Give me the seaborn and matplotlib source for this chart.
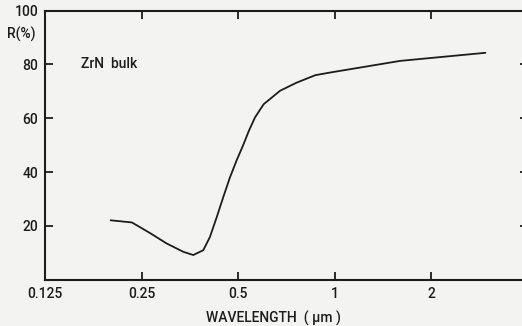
import matplotlib
matplotlib.use("Agg")
import matplotlib.pyplot as plt
from matplotlib.ticker import FixedLocator, FixedFormatter, NullLocator
import seaborn as sns
import pandas as pd

# Reflectance of bulk ZrN versus wavelength
wavelength_um = [0.20, 0.233, 0.265, 0.299, 0.337, 0.362, 0.389, 0.408, 0.4285,
                 0.449, 0.471, 0.494, 0.518, 0.54, 0.564, 0.60, 0.675, 0.76,
                 0.87, 0.97, 1.6, 2.95]
reflectance_pct = [22.1, 21.3, 17.4, 13.5, 10.4, 9.2, 11.0, 15.9, 23.3,
                   30.7, 38.0, 44.3, 50.0, 55.4, 60.3, 65.2, 70.2, 73.2,
                   76.0, 77.0, 81.3, 84.3]

x_ticks = [0.125, 0.25, 0.5, 1, 2, 4]
x_tick_labels = ["0.125", "0.25", "0.5", "1", "2", "4"]
y_ticks = [20, 40, 60, 80, 100]
y_tick_labels = ["20", "40", "60", "80", "100"]

sns.set_theme(style="ticks")
plt.rcParams["font.family"] = ["Roboto", "DejaVu Sans"]

bg = "#f3f3f1"
ink = "#1c1c1c"
fs = 10
fw = "medium"

fig = plt.figure(figsize=(5.22, 3.26), dpi=100, facecolor=bg)
ax = fig.add_axes([0.0866, 0.1417, 0.9245, 0.826])
ax.set_facecolor(bg)

df = pd.DataFrame({"wavelength": wavelength_um, "R": reflectance_pct})
ax.set_xscale("log", base=2)
sns.lineplot(data=df, x="wavelength", y="R", ax=ax, color=ink, linewidth=1.3,
             sort=False, estimator=None)

ax.set_xlim(0.125, 4)
ax.set_ylim(0, 100)

ax.xaxis.set_major_locator(FixedLocator(x_ticks))
ax.xaxis.set_major_formatter(FixedFormatter(x_tick_labels))
ax.xaxis.set_minor_locator(NullLocator())
ax.yaxis.set_major_locator(FixedLocator(y_ticks))
ax.yaxis.set_major_formatter(FixedFormatter(y_tick_labels))

for side in ["left", "right", "top", "bottom"]:
    ax.spines[side].set_visible(True)
    ax.spines[side].set_color(ink)
    ax.spines[side].set_linewidth(1.5)

ax.tick_params(axis="both", which="major", direction="in", length=5.5, width=1.3,
               color=ink, labelsize=fs, labelcolor=ink,
               top=True, right=True, labeltop=False, labelright=False)
ax.tick_params(axis="x", pad=5)
ax.tick_params(axis="y", pad=5)
for lab in ax.get_xticklabels() + ax.get_yticklabels():
    lab.set_fontweight(fw)

ax.set_xlabel("WAVELENGTH  ( µm )", fontsize=fs, color=ink, fontweight=fw)
ax.xaxis.set_label_coords(0.473, -0.114)
ax.set_ylabel("")

fig.text(0.014, 0.895, "R(%)", fontsize=fs, color=ink, fontweight=fw,
         ha="left", va="center")
ax.text(0.125 * 2 ** 0.37, 80, "ZrN  bulk", fontsize=fs, color=ink,
        fontweight=fw, ha="left", va="center")

fig.savefig("out.png", dpi=100, facecolor=bg)
